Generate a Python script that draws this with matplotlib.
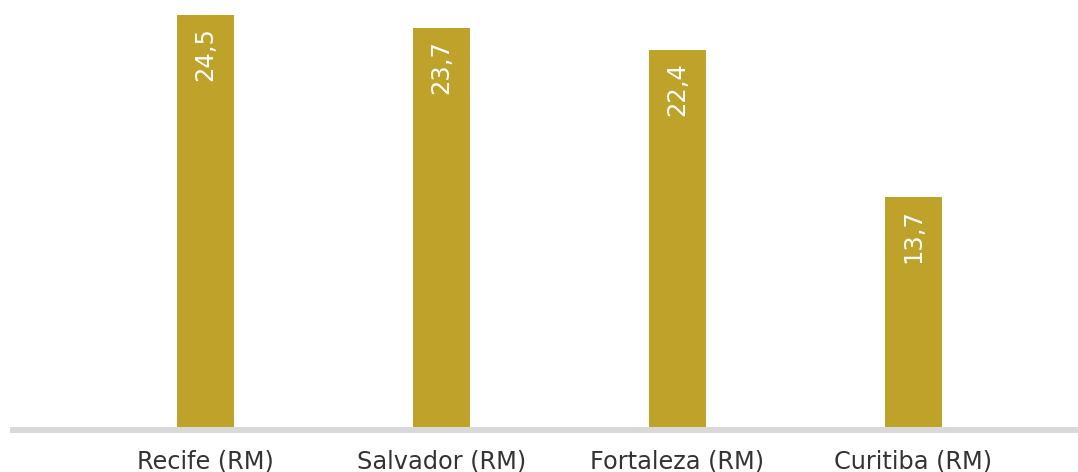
import matplotlib
matplotlib.use("Agg")
import matplotlib.pyplot as plt

categories = ["Recife (RM)", "Salvador (RM)", "Fortaleza (RM)", "Curitiba (RM)"]
values = [24.5, 23.7, 22.4, 13.7]
value_labels = ["24,5", "23,7", "22,4", "13,7"]

W, H = 1078, 472
fig = plt.figure(figsize=(W / 100, H / 100), dpi=100)
# axes spans from pixel x 10..1078, y 0..433 (from top)
ax = fig.add_axes([10 / W, (H - 433) / H, (W - 10) / W, 433 / H])

ppu = 16.82  # pixels per unit
x = list(range(len(categories)))
ax.bar(x, values, width=57 / 236, color="#BFA22A", zorder=2)
ax.set_xlim((10 - 205.5) / 236, (1078 - 205.5) / 236)
ax.set_ylim(-6 / ppu, 427 / ppu)
ax.axhline(-3 / ppu, color="#D9D9D9", linewidth=6 * 0.72, zorder=3)

for xi, v, lab in zip(x, values, value_labels):
    ax.text(xi, v - 12 / ppu, lab, rotation=90, ha="center", va="top",
            color="white", fontsize=17.5, family="DejaVu Sans")

for xi, c in zip(x, categories):
    ax.text(xi, -34 / ppu, c, ha="center", va="center", color="#333333",
            fontsize=17.3, family="DejaVu Sans", clip_on=False)

ax.axis("off")
fig.savefig("out.png", dpi=100)
